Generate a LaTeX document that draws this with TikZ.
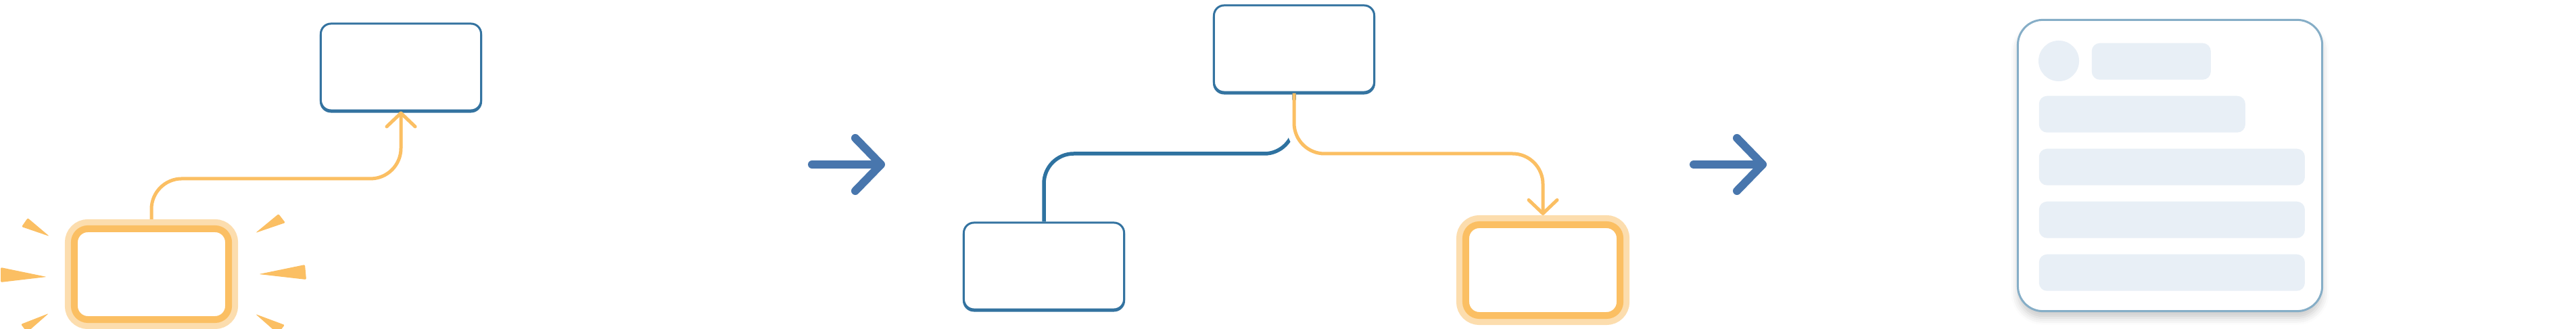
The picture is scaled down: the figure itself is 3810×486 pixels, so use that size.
\documentclass[tikz,border=0pt]{standalone}
\usepackage{tikz}
\usetikzlibrary{arrows.meta,shadows.blur}

\definecolor{boxblue}{HTML}{3473A0}
\definecolor{linkblue}{HTML}{2E72A0}
\definecolor{stepblue}{HTML}{4876AD}
\definecolor{hot}{HTML}{FBBF63}
\definecolor{halo}{HTML}{FCDDAE}
\definecolor{cardline}{HTML}{86AEC7}
\definecolor{skeleton}{HTML}{E8EFF6}

\tikzset{
  plainbox/.style={draw=boxblue, line width=0.03cm, fill=white, rounded corners=0.15cm,
    minimum width=2.37cm, minimum height=1.28cm, inner sep=0pt,
    preaction={draw=boxblue, fill=boxblue, transform canvas={yshift=-0.02cm}}},
  hotbox/.style={draw=hot, line width=0.1cm, fill=white, rounded corners=0.2cm,
    minimum width=2.28cm, minimum height=1.34cm, inner sep=0pt, outer sep=0.14cm,
    preaction={draw=halo, line width=0.28cm}},
  ray/.style={fill=hot, rounded corners=0.02cm},
  hotlink/.style={draw=hot, line width=0.05cm, rounded corners=0.45cm,
    -{Straight Barb[length=0.2cm,width=0.42cm,round]}},
  treelink/.style={draw=linkblue, line width=0.055cm, rounded corners=0.44cm},
  casing/.style={draw=white, line width=0.24cm, rounded corners=0.44cm},
  bigarrow/.style={draw=stepblue, line width=0.12cm, line cap=round,
    -{Straight Barb[length=0.38cm,width=0.78cm,round]}},
  card/.style={draw=cardline, line width=0.03cm, fill=white, rounded corners=0.37cm,
    minimum width=4.5cm, minimum height=4.3cm, inner sep=0pt,
    blur shadow={shadow xshift=0cm, shadow yshift=-0.1cm, shadow blur radius=0.1cm, shadow opacity=20}},
  bar/.style={fill=skeleton, rounded corners=0.12cm, minimum height=0.54cm,
    inner sep=0pt, anchor=north west}
}

\begin{document}
\begin{tikzpicture}[x=0.01cm, y=-0.01cm]
	\useasboundingbox (0,0) rectangle (3810,486);

	% before: one box lights up
	\node[plainbox] (goal) at (593,99) {};
	\node[hotbox] (start) at (224,405) {};
	\fill[ray] (32,335) -- (41,322) -- (73,349) -- cycle;
	\fill[ray] (1,395) -- (1,417) -- (69,409) -- cycle;
	\fill[ray] (31,479) -- (40,491) -- (72,463) -- cycle;
	\fill[ray] (378,344) -- (412,316) -- (422,329) -- cycle;
	\fill[ray] (383,405) -- (451,391) -- (453,413) -- cycle;
	\fill[ray] (378,464) -- (421,480) -- (411,493) -- cycle;
	\draw[hotlink] (start.north) -- ++(0,-60) -| (goal.south);

	\coordinate (s1) at (1201,243);
	\coordinate (e1) at (1309,243);
	\draw[bigarrow] (s1) -- (e1);

	% tree: the path taken
	\node[plainbox] (root) at (1914,72) {};
	\node[plainbox] (leftleaf) at (1544,393) {};
	\node[hotbox] (rightleaf) at (2282,399) {};
	\coordinate (fork) at (1914,227);
	\draw[treelink] (leftleaf.north) |- (fork) -- (root.south);
	\draw[casing, shorten <=0.1cm, shorten >=0.3cm] (root.south) -- (fork) -| (rightleaf.north);
	\draw[hotlink] (root.south) -- (fork) -| (rightleaf.north);

	\coordinate (s2) at (2505,243);
	\coordinate (e2) at (2613,243);
	\draw[bigarrow] (s2) -- (e2);

	% result: the page
	\node[card] (page) at (3209.5,244.5) {};
	\node[circle, fill=skeleton, minimum size=0.6cm, inner sep=0pt] (avatar) at (3045,90) {};
	\node[bar, minimum width=1.76cm] (title) at (3093,63) {};
	\node[bar, minimum width=3.05cm] (line1) at (3015,141) {};
	\foreach \y/\n in {219/line2, 297/line3, 375/line4}
		\node[bar, minimum width=3.93cm] (\n) at (3015,\y) {};
\end{tikzpicture}
\end{document}
